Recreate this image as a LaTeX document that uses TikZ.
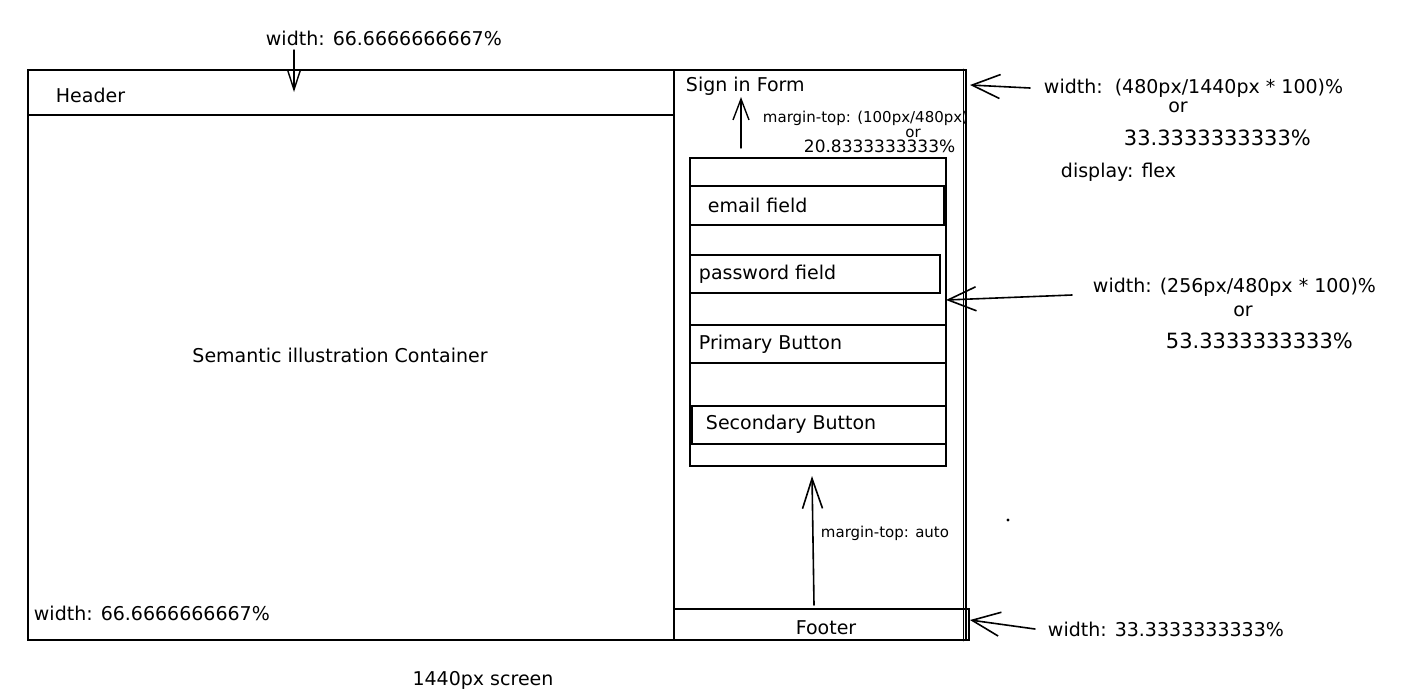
\documentclass[tikz,border=0pt]{standalone}
\usepackage{fontspec}
\setmainfont{DejaVu Sans}
\usetikzlibrary{arrows.meta,positioning}

\begin{document}
\begin{tikzpicture}[x=1pt, y=-1pt, line width=1.9pt, line cap=round,
    >={Straight Barb[length=28pt,width=24pt]},
    box/.style={draw, rectangle, inner sep=0pt, anchor=north west},
    row/.style={box, line width=1.5pt},
    hand/.style={font=\fontsize{19}{22}\selectfont, inner sep=0pt},
    small/.style={font=\fontsize{15}{17}\selectfont, inner sep=0pt},
    big/.style={font=\fontsize{21}{24}\selectfont, inner sep=0pt}]
    \useasboundingbox (0,0) rectangle (1407,697);

    % 左侧容器与页眉
    \node[box, minimum width=646pt, minimum height=570pt] (main) at (27,69) {};
    \node[box, minimum width=646pt, minimum height=45pt] (header) at (27,69) {};
    \node[hand, anchor=west] (headertxt) at (55,95) {Header};
    \node[hand] (maintxt) at (340,355) {Semantic illustration Container};
    \node[hand, anchor=west] (mainw) at (33,613) {width: 66.6666666667\%};
    \node[hand, anchor=west] (topw) at (265,38) {width: 66.6666666667\%};
    \coordinate (topstart) at (294,50);
    \coordinate (toptip) at (294,92);
    \draw[->, line width=1.4pt, >={Straight Barb[length=20pt,width=13pt]}] (topstart) -- (toptip);
    \node[hand] (screentxt) at (483,680) {1440px screen};

    % 右侧容器
    \node[box, minimum width=292pt, minimum height=570pt] (side) at (673,69) {};
    \draw[line width=1pt] ([xshift=-3.5pt]side.north east) -- ([xshift=-3.5pt]side.south east);
    \node[hand, anchor=west] (signtxt) at (685,86) {Sign in Form};
    \node[box, minimum width=295pt, minimum height=31pt] (footer) at (673,608) {};
    \node[hand] (footertxt) at (826,628) {Footer};

    % 表单
    \node[box, minimum width=256pt, minimum height=308pt] (form) at (689,157) {};
    \node[row, minimum width=254pt, minimum height=39pt] (email) at (689,185) {};
    \node[row, minimum width=250pt, minimum height=38pt] (password) at (689,254) {};
    \node[row, minimum width=256pt, minimum height=38pt] (primary) at (689,324) {};
    \node[row, minimum width=254pt, minimum height=38pt] (secondary) at (691,405) {};
    \node[hand, anchor=west] (emailtxt) at (707,205) {email field};
    \node[hand, anchor=west] (passtxt) at (698,274) {password field};
    \node[hand, anchor=west] (primtxt) at (698,344) {Primary Button};
    \node[hand, anchor=west] (sectxt) at (705,424) {Secondary Button};

    % margin-top 标注
    \coordinate (mtstart) at (741,148);
    \coordinate (mttip) at (741,97);
    \draw[->, line width=1.4pt, >={Straight Barb[length=21pt,width=16pt]}] (mtstart) -- (mttip);
    \node[small, anchor=west] (mttxt) at (762,118) {margin-top: (100px/480px)};
    \node[small] (mtor) at (913,133) {or};
    \node[hand, font=\fontsize{17}{20}\selectfont, anchor=west] (mtval) at (803,146) {20.8333333333\%};

    \coordinate (autostart) at (814,605);
    \coordinate (autotip) at (812,476);
    \draw[->, line width=1.6pt, >={Straight Barb[length=30pt,width=20pt]}] (autostart) -- (autotip);
    \node[small, anchor=west] (autotxt) at (820,533) {margin-top: auto};

    % 右侧宽度标注
    \node[hand, anchor=west] (sidew) at (1043,88) {width:\ \ (480px/1440px * 100)\%};
    \node[hand] (sideor) at (1178,107) {or};
    \node[big, anchor=west] (sideval) at (1123,138) {33.3333333333\%};
    \node[hand, anchor=west] (flextxt) at (1060,172) {display: flex};
    \coordinate (sidetip) at (970,85);
    \draw[->, line width=1.6pt] ([xshift=-13pt]sidew.west) -- (sidetip);

    \node[hand, anchor=west] (formw) at (1092,287) {width: (256px/480px * 100)\%};
    \node[hand] (formor) at (1243,311) {or};
    \node[big, anchor=west] (formval) at (1165,341) {53.3333333333\%};
    \coordinate (formstart) at (1072,295);
    \coordinate (formtip) at (946,300);
    \draw[->, line width=1.6pt] (formstart) -- (formtip);

    \node[hand, anchor=west] (footw) at (1047,629) {width: 33.3333333333\%};
    \coordinate (foottip) at (970,620);
    \draw[->, line width=1.6pt] ([xshift=-12pt]footw.west) -- (foottip);

    % 小点
    \fill (1008,520) circle (1.6pt);
\end{tikzpicture}
\end{document}
